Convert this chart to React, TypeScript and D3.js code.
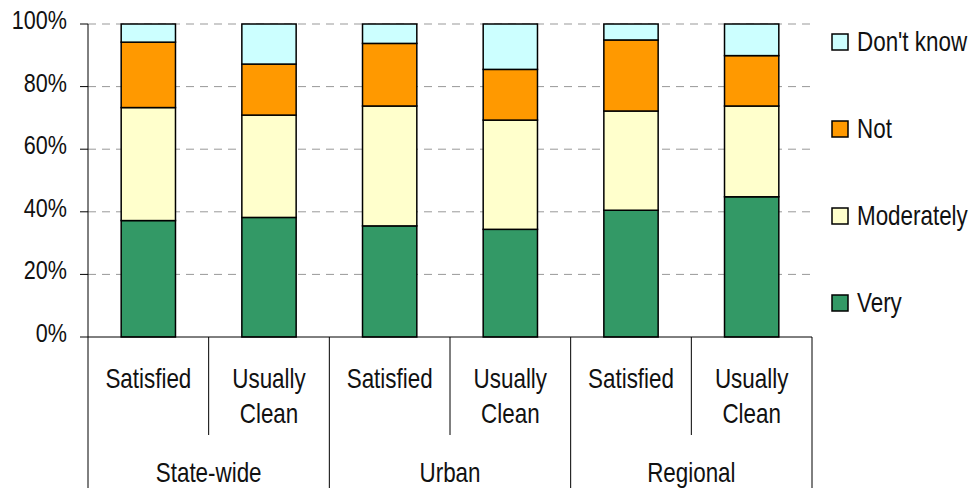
import React from "react";
import { scaleBand, scaleLinear, stack } from "d3";

// survey answers, percent of respondents
const groups = ["State-wide", "Urban", "Regional"];
const questions = [["Satisfied"], ["Usually", "Clean"]];
const seriesNames = ["Very", "Moderately", "Not", "Don't know"];
const very = [37.2, 38.2, 35.5, 34.4, 40.5, 44.8];
const moderately = [36.1, 32.7, 38.3, 34.9, 31.7, 29.0];
const notSatisfied = [20.9, 16.3, 20.0, 16.2, 22.7, 16.1];
const dontKnow = [5.8, 12.8, 6.2, 14.5, 5.1, 10.1];
const yTicks = [0, 20, 40, 60, 80, 100];

const colors = ["#339966", "#FFFFCC", "#FF9900", "#CCFFFF"];

const width = 975;
const height = 488;
const left = 88;
const right = 812;
const top = 24;
const bottom = 337;
const font = "'Liberation Sans', Arial, sans-serif";
const fs = 27;
const squeeze = 0.83; // the original uses a narrow face

// text squeezed sideways around its anchor point
const NText = ({ x, y, anchor = "start", size = fs, children }: any) => (
  <text
    transform={`translate(${x},${y}) scale(${squeeze},1)`}
    fontSize={size}
    textAnchor={anchor}
    fill="#111"
  >
    {children}
  </text>
);

const App = () => {
  const rows = very.map((v, i) => ({
    i,
    Very: v,
    Moderately: moderately[i],
    Not: notSatisfied[i],
    "Don't know": dontKnow[i],
  }));
  const layers = stack<any>().keys(seriesNames)(rows);

  const x = scaleBand<number>()
    .domain(rows.map((d) => d.i))
    .range([left, right])
    .paddingInner(0.55)
    .paddingOuter(0.275);
  const y = scaleLinear().domain([0, 100]).range([bottom, top]);

  const step = x.step();
  const bandLeft = (i: number) => left + i * step;

  return (
    <svg
      width={width}
      height={height}
      style={{ position: "absolute", left: 0, top: 0, fontFamily: font }}
    >
      {/* grid */}
      {yTicks.slice(1).map((t) => (
        <line
          key={t}
          x1={left}
          x2={right}
          y1={y(t)}
          y2={y(t)}
          stroke="#999"
          strokeDasharray="8,6"
        />
      ))}

      {/* y axis */}
      <line x1={left} x2={left} y1={top} y2={bottom} stroke="#000" />
      {yTicks.map((t) => (
        <g key={t}>
          <line x1={left - 8} x2={left} y1={y(t)} y2={y(t)} stroke="#000" />
          <NText x={67} y={y(t) + 5} anchor="end" size={26}>
            {t}%
          </NText>
        </g>
      ))}

      {/* bars */}
      {layers.map((layer, li) =>
        layer.map((d, i) => (
          <rect
            key={li + "-" + i}
            x={x(i)}
            y={y(d[1])}
            width={x.bandwidth()}
            height={y(d[0]) - y(d[1])}
            fill={colors[li]}
            stroke="#000"
            strokeWidth={1.5}
          />
        ))
      )}

      {/* x axis */}
      <line x1={left} x2={right} y1={bottom} y2={bottom} stroke="#000" />
      {rows.map((d) => (
        <line
          key={"div" + d.i}
          x1={bandLeft(d.i)}
          x2={bandLeft(d.i)}
          y1={bottom}
          y2={d.i % 2 === 0 ? height : 435}
          stroke="#000"
        />
      ))}
      <line x1={right} x2={right} y1={bottom} y2={height} stroke="#000" />
      {rows.map((d) =>
        questions[d.i % 2].map((w, k) => (
          <NText
            key={"q" + d.i + k}
            x={bandLeft(d.i) + step / 2}
            y={388 + k * 35}
            anchor="middle"
          >
            {w}
          </NText>
        ))
      )}
      {groups.map((g, gi) => (
        <NText key={g} x={bandLeft(gi * 2) + step} y={482} anchor="middle">
          {g}
        </NText>
      ))}

      {/* legend */}
      {seriesNames
        .map((s, i) => ({ s, i }))
        .reverse()
        .map(({ s, i }, k) => {
          const cy = 42 + k * 87;
          return (
            <g key={s}>
              <rect
                x={832}
                y={cy - 8}
                width={16}
                height={16}
                fill={colors[i]}
                stroke="#000"
                strokeWidth={1.5}
              />
              <NText x={857} y={cy + 9}>
                {s}
              </NText>
            </g>
          );
        })}
    </svg>
  );
};

export default App;
